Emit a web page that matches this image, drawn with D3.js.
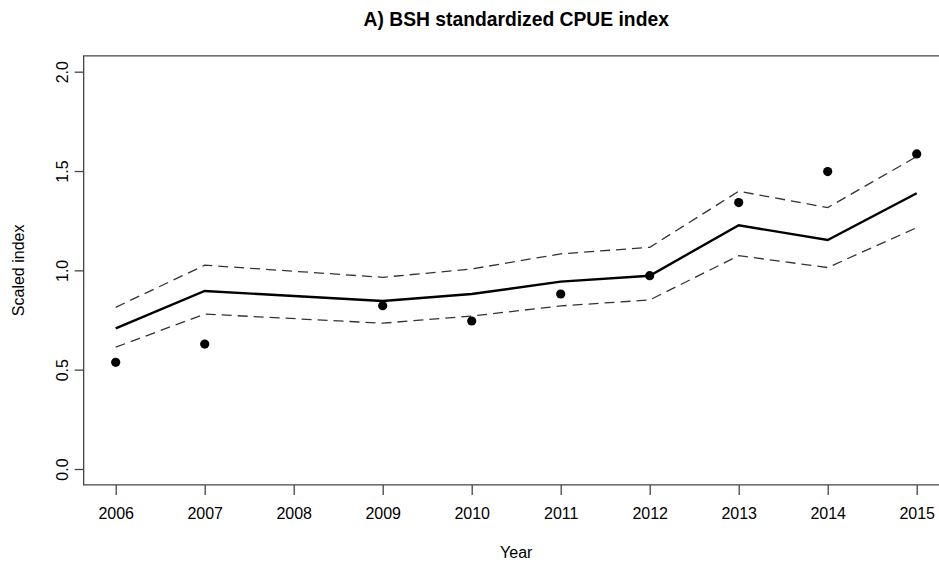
<!DOCTYPE html>
<html lang="en">
  <head>
    <meta charset="utf-8" />
    <title>A) BSH standardized CPUE index</title>
    <script src="https://cdn.jsdelivr.net/npm/d3@7"></script>
    <style>
      html,
      body {
        margin: 0;
        background: #fff;
        overflow: hidden;
      }
      svg {
        display: block;
        font-family: "Liberation Sans", Arial, sans-serif;
      }
      .axis text {
        font-size: 16px;
        fill: #000;
      }
      .axis line {
        stroke: #444;
      }
    </style>
  </head>

  <body>
    <svg id="chart"></svg>

    <script>
      // values
      const years = [2006, 2007, 2009, 2010, 2011, 2012, 2013, 2014, 2015];
      const xTicks = [2006, 2007, 2008, 2009, 2010, 2011, 2012, 2013, 2014, 2015];
      const yTicks = [0, 0.5, 1, 1.5, 2];
      const estimate = [0.708, 0.896, 0.846, 0.881, 0.943, 0.973, 1.227, 1.153, 1.388];
      const upper = [0.814, 1.026, 0.965, 1.007, 1.083, 1.116, 1.398, 1.316, 1.573];
      const lower = [0.613, 0.78, 0.734, 0.77, 0.821, 0.851, 1.074, 1.014, 1.215];
      const observed = [0.537, 0.629, 0.822, 0.745, 0.881, 0.973, 1.341, 1.497, 1.586];

      const width = 939;
      const height = 563;

      const svg = d3.select("#chart").attr("width", width).attr("height", height);

      // R style scales: data range plus 4% on each side
      const x = d3.scaleLinear().domain([2006, 2015]).range([115.7, 916.7]);
      const y = d3.scaleLinear().domain([0, 2]).range([469, 71.7]);

      const x0 = x(2006 - 0.36), x1 = x(2015 + 0.36);
      const y0 = y(-0.08), y1 = y(2.08);

      // plot frame: the right side falls outside the picture, so only three sides
      svg
        .append("path")
        .attr("d", `M${x1},${y1}H${x0}V${y0}H${x1}`)
        .attr("fill", "none")
        .attr("stroke", "#444")
        .attr("stroke-width", 1.3);

      // axes
      const xaxis = d3.axisBottom(x).tickValues(xTicks).tickFormat(d3.format("d")).tickSize(10).tickSizeOuter(0).tickPadding(13);
      const gx = svg.append("g").attr("class", "axis").attr("transform", `translate(0,${y0})`).call(xaxis);
      gx.select(".domain").remove();
      gx.selectAll("line").attr("stroke-width", 1.3);

      const yaxis = d3.axisLeft(y).tickValues(yTicks).tickFormat(d3.format(".1f")).tickSize(9).tickSizeOuter(0);
      const gy = svg.append("g").attr("class", "axis").attr("transform", `translate(${x0},0)`).call(yaxis);
      gy.select(".domain").remove();
      gy.selectAll("line").attr("stroke-width", 1.3);
      gy.selectAll("text")
        .attr("x", 0)
        .attr("dy", null)
        .attr("text-anchor", "middle")
        .attr("transform", "translate(-21,0) rotate(-90)")
        .attr("dominant-baseline", "central");

      const rows = years.map((yr, i) => ({ yr, est: estimate[i], up: upper[i], lo: lower[i], obs: observed[i] }));

      const line = key => d3.line().x(d => x(d.yr)).y(d => y(d[key]));

      svg
        .append("path")
        .datum(rows)
        .attr("d", line("up"))
        .attr("fill", "none")
        .attr("stroke", "#333")
        .attr("stroke-width", 1.3)
        .attr("stroke-dasharray", "10,6");

      svg
        .append("path")
        .datum(rows)
        .attr("d", line("lo"))
        .attr("fill", "none")
        .attr("stroke", "#333")
        .attr("stroke-width", 1.3)
        .attr("stroke-dasharray", "10,6");

      svg
        .append("path")
        .datum(rows)
        .attr("d", line("est"))
        .attr("fill", "none")
        .attr("stroke", "#000")
        .attr("stroke-width", 2.4);

      svg
        .selectAll("circle")
        .data(rows)
        .join("circle")
        .attr("cx", d => x(d.yr))
        .attr("cy", d => y(d.obs))
        .attr("r", 4.6)
        .attr("fill", "#000");

      // titles
      svg
        .append("text")
        .attr("x", (x0 + x1) / 2)
        .attr("y", 26)
        .attr("text-anchor", "middle")
        .attr("font-size", "19.3px")
        .attr("font-weight", "bold")
        .text("A) BSH standardized CPUE index");

      svg
        .append("text")
        .attr("x", (x0 + x1) / 2)
        .attr("y", 558)
        .attr("text-anchor", "middle")
        .attr("font-size", "16px")
        .text("Year");

      svg
        .append("text")
        .attr("transform", `translate(24,${(y0 + y1) / 2}) rotate(-90)`)
        .attr("text-anchor", "middle")
        .attr("font-size", "16px")
        .text("Scaled index");
    </script>
  </body>
</html>
